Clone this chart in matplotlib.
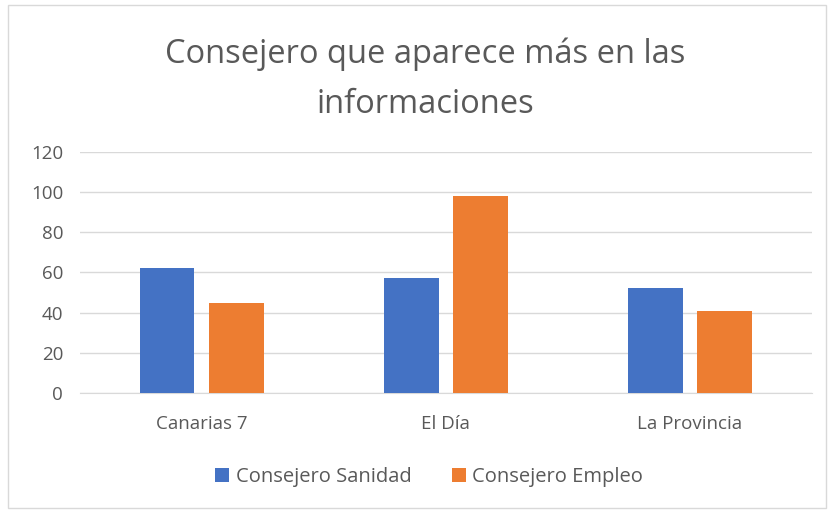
import numpy as np
import matplotlib.pyplot as plt
from matplotlib.patches import Rectangle

categories = ['Canarias 7', 'El Día', 'La Provincia']
sanidad = [62, 57, 52]
empleo = [45, 98, 41]
series_names = ['Consejero Sanidad', 'Consejero Empleo']
yticks = [0, 20, 40, 60, 80, 100, 120]

blue = '#4472c4'
orange = '#ed7d31'
grey_text = '#595959'

plt.rcParams['font.family'] = ['Open Sans', 'DejaVu Sans']

fig = plt.figure(figsize=(8.31, 5.11), dpi=100)
fig.patches.append(Rectangle((0.010, 0.006), 0.984, 0.984, transform=fig.transFigure,
                             fill=False, edgecolor='#d9d9d9', linewidth=1))
ax = fig.add_axes([0.096, 0.231, 0.881, 0.472])

x = np.arange(len(categories))
w = 0.225
gap = 0.06
ax.bar(x - (w + gap) / 2, sanidad, width=w, color=blue, label=series_names[0], zorder=3)
ax.bar(x + (w + gap) / 2, empleo, width=w, color=orange, label=series_names[1], zorder=3)

ax.set_xlim(-0.5, len(categories) - 0.5)
ax.set_ylim(0, 120)
ax.set_yticks(yticks)
ax.set_xticks(x)
ax.set_xticklabels(categories)
ax.grid(axis='y', color='#d9d9d9', linewidth=1, zorder=0)
for s in ['top', 'right', 'left']:
    ax.spines[s].set_visible(False)
ax.spines['bottom'].set_color('#d9d9d9')
ax.tick_params(axis='both', length=0, labelsize=13.5, labelcolor=grey_text)
ax.tick_params(axis='x', pad=16)
ax.tick_params(axis='y', pad=12)

fig.text(0.512, 0.845, 'Consejero que aparece más en las\ninformaciones', ha='center', va='center',
         fontsize=23.5, color=grey_text, linespacing=1.7)

ax.legend(loc='center', bbox_to_anchor=(0.477, -0.35), ncol=2, frameon=False,
          fontsize=14.5, labelcolor=grey_text, handlelength=0.7, handleheight=0.7,
          handletextpad=0.3, columnspacing=2.0)

fig.savefig('out.png', dpi=100)
